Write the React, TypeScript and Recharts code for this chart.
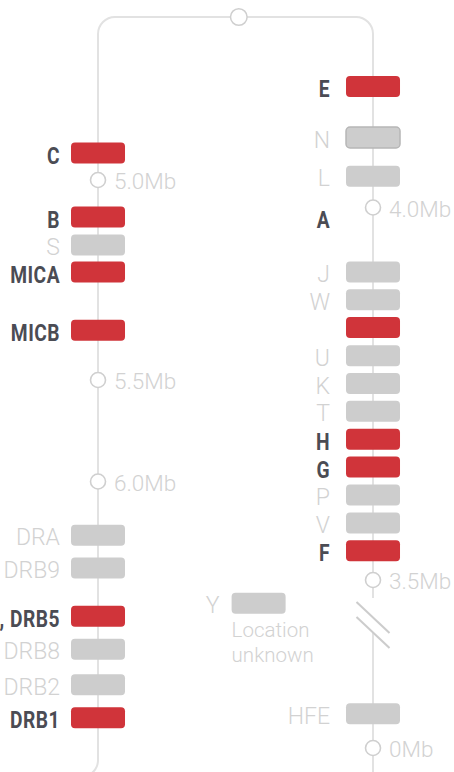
import React from 'react';
import { ComposedChart, XAxis, YAxis, Scatter, Line } from 'recharts';

// ---------- data (track positions measured down from the top of the map) ----------
const leftGenes = ['C', 'B', 'S', 'MICA', 'MICB', 'DRA', 'DRB9', 'DRB3, DRB4, DRB5', 'DRB8', 'DRB2', 'DRB1'];
const leftGenePos = [136, 200, 228, 255, 313.3, 518.3, 551, 599.3, 632.3, 667.7, 700.7];
const leftGeneLinked = [true, true, false, true, true, false, false, true, false, false, true];

const rightGenes = ['E', 'N', 'L', 'A', 'J', 'W', 'U', 'K', 'T', 'H', 'G', 'P', 'V', 'F', 'HFE'];
const rightGenePos = [69.5, 120.5, 159.3, 310.5, 255, 282.7, 338.7, 366.5, 394.3, 422.3, 450, 478, 506, 533.7, 696.7];
const rightLabelPos = [69.5, 120.5, 159.3, 200, 255, 282.7, 338.7, 366.5, 394.3, 422.3, 450, 478, 506, 533.7, 696.7];
const rightGeneLinked = [true, false, false, true, false, false, false, false, false, true, true, false, false, true, false];
const outlinedGenes = ['N'];

const unplacedGene = 'Y';
const unplacedX = 0.584;
const unplacedPos = 586.3;
const unplacedNote = ['Location', 'unknown'];

const leftTickLabels = ['5.0Mb', '5.5Mb', '6.0Mb'];
const leftTickPos = [163, 363, 464.5];
const rightTickLabels = ['4.0Mb', '3.5Mb', '0Mb'];
const rightTickPos = [190.5, 563, 731];

const junctionX = 0.512;
const trackBottom = 760;
const breakTop = 581;
const breakBottom = 616;
const breakMarkPos = 608;

// ---------- tables built from the arrays ----------
const LEFT = 0;
const RIGHT = 1;

const geneBars = [
  ...leftGenes.map((name, i) => ({ name, x: LEFT, y: leftGenePos[i], linked: leftGeneLinked[i], side: 'left' })),
  ...rightGenes.map((name, i) => ({ name, x: RIGHT, y: rightGenePos[i], linked: rightGeneLinked[i], side: 'right' })),
  { name: unplacedGene, x: unplacedX, y: unplacedPos, linked: false, side: 'free' },
];

const geneLabels = [
  ...leftGenes.map((name, i) => ({ name, x: LEFT, y: leftGenePos[i], linked: leftGeneLinked[i], side: 'left' })),
  ...rightGenes.map((name, i) => ({ name, x: RIGHT, y: rightLabelPos[i], linked: rightGeneLinked[i], side: 'right' })),
  { name: unplacedGene, x: unplacedX, y: unplacedPos, linked: false, side: 'free' },
];

const tickRows = [
  ...leftTickLabels.map((label, i) => ({ label, x: LEFT, y: leftTickPos[i] })),
  ...rightTickLabels.map((label, i) => ({ label, x: RIGHT, y: rightTickPos[i] })),
];

const frameMain = [
  { x: -0.1, y: trackBottom },
  { x: LEFT, y: trackBottom },
  { x: LEFT, y: 0 },
  { x: RIGHT, y: 0 },
  { x: RIGHT, y: breakTop },
];
const frameLower = [
  { x: RIGHT, y: breakBottom },
  { x: RIGHT, y: trackBottom + 20 },
];
const junction = [{ x: junctionX, y: 0 }];
const breakMark = [{ x: RIGHT, y: breakMarkPos }];
const noteRow = [{ x: unplacedX, y: unplacedPos }];

// ---------- styles ----------
const RED = '#d0343a';
const GREY_BAR = '#cdcdcd';
const DARK_TEXT = '#4b4c54';
const LIGHT_TEXT = '#d2d2d2';
const FRAME = '#e2e2e2';
const CIRCLE = '#cfcfcf';
const BOLD_FONT = "'Roboto', 'Noto Sans', sans-serif";
const LIGHT_FONT = "'Roboto', 'Noto Sans', sans-serif";
const BAR_W = 54;
const BAR_H = 21;

const roundedCorners = (radius: number) => (context: any) => {
  let pts: [number, number][] = [];
  return {
    areaStart() {},
    areaEnd() {},
    lineStart() {
      pts = [];
    },
    lineEnd() {
      if (!pts.length) return;
      context.moveTo(pts[0][0], pts[0][1]);
      for (let i = 1; i < pts.length - 1; i++) {
        context.arcTo(pts[i][0], pts[i][1], pts[i + 1][0], pts[i + 1][1], radius);
      }
      const last = pts[pts.length - 1];
      context.lineTo(last[0], last[1]);
    },
    point(x: number, y: number) {
      pts.push([+x, +y]);
    },
  };
};

const BarShape = (props: any) => {
  const { cx, cy, payload } = props;
  if (cx == null || cy == null) return null;
  const outlined = outlinedGenes.includes(payload.name);
  return (
    <rect
      x={cx - BAR_W / 2}
      y={cy - BAR_H / 2}
      width={BAR_W}
      height={BAR_H}
      rx={4}
      ry={4}
      fill={payload.linked ? RED : GREY_BAR}
      stroke={outlined ? '#b6b6b6' : 'none'}
      strokeWidth={outlined ? 1.5 : 0}
    />
  );
};

const LabelShape = (props: any) => {
  const { cx, cy, payload } = props;
  if (cx == null || cy == null) return null;
  const gap = payload.side === 'left' ? 38 : payload.side === 'right' ? 43 : 39;
  if (payload.linked) {
    return (
      <text
        transform={`translate(${cx - gap},${cy + 10.5}) scale(0.8,1)`}
        x={0}
        y={0}
        textAnchor="end"
        fontFamily={BOLD_FONT}
        fontWeight={700}
        fontSize={24}
        fill={DARK_TEXT}
        letterSpacing={0.6}
      >
        {payload.name}
      </text>
    );
  }
  return (
    <text
      x={cx - gap}
      y={cy + 10}
      textAnchor="end"
      fontFamily={LIGHT_FONT}
      fontWeight={300}
      fontSize={23}
      fill={LIGHT_TEXT}
    >
      {payload.name}
    </text>
  );
};

const TickShape = (props: any) => {
  const { cx, cy, payload } = props;
  if (cx == null || cy == null) return null;
  return (
    <g>
      <circle cx={cx} cy={cy} r={7.5} fill="#ffffff" stroke={CIRCLE} strokeWidth={1.6} />
      <text x={cx + 16} y={cy + 9} fontFamily={LIGHT_FONT} fontWeight={300} fontSize={22.5} fill={LIGHT_TEXT}>
        {payload.label}
      </text>
    </g>
  );
};

const JunctionShape = (props: any) => {
  const { cx, cy } = props;
  if (cx == null || cy == null) return null;
  return <circle cx={cx} cy={cy} r={8.3} fill="#ffffff" stroke={CIRCLE} strokeWidth={1.5} />;
};

const BreakShape = (props: any) => {
  const { cx, cy } = props;
  if (cx == null || cy == null) return null;
  return (
    <g stroke="#cccccc" strokeWidth={2}>
      <line x1={cx - 16.5} y1={cy - 23} x2={cx + 16.5} y2={cy + 8} />
      <line x1={cx - 16.5} y1={cy - 8} x2={cx + 16.5} y2={cy + 23} />
    </g>
  );
};

const NoteShape = (props: any) => {
  const { cx, cy } = props;
  if (cx == null || cy == null) return null;
  return (
    <text fontFamily={LIGHT_FONT} fontWeight={300} fontSize={20.5} fill={LIGHT_TEXT}>
      {unplacedNote.map((line, i) => (
        <tspan key={line} x={cx - BAR_W / 2} y={cy + 34 + i * 25}>
          {line}
        </tspan>
      ))}
    </text>
  );
};

export default function App() {
  return (
    <div style={{ position: 'absolute', left: 0, top: 0, width: 454, height: 772, background: '#ffffff' }}>
      <ComposedChart width={454} height={772} margin={{ top: 0, right: 0, bottom: 0, left: 0 }}>
        <XAxis type="number" dataKey="x" domain={[-0.3564, 1.2945]} allowDataOverflow hide />
        <YAxis type="number" dataKey="y" domain={[-17, 755]} reversed allowDataOverflow hide />
        <Line
          data={frameMain}
          dataKey="y"
          type={roundedCorners(17) as any}
          stroke={FRAME}
          strokeWidth={2}
          dot={false}
          activeDot={false}
          isAnimationActive={false}
        />
        <Line
          data={frameLower}
          dataKey="y"
          type="linear"
          stroke={FRAME}
          strokeWidth={2}
          dot={false}
          activeDot={false}
          isAnimationActive={false}
        />
        <Scatter data={junction} shape={JunctionShape} isAnimationActive={false} />
        <Scatter data={breakMark} shape={BreakShape} isAnimationActive={false} />
        <Scatter data={tickRows} shape={TickShape} isAnimationActive={false} />
        <Scatter data={geneBars} shape={BarShape} isAnimationActive={false} />
        <Scatter data={geneLabels} shape={LabelShape} isAnimationActive={false} />
        <Scatter data={noteRow} shape={NoteShape} isAnimationActive={false} />
      </ComposedChart>
    </div>
  );
}
